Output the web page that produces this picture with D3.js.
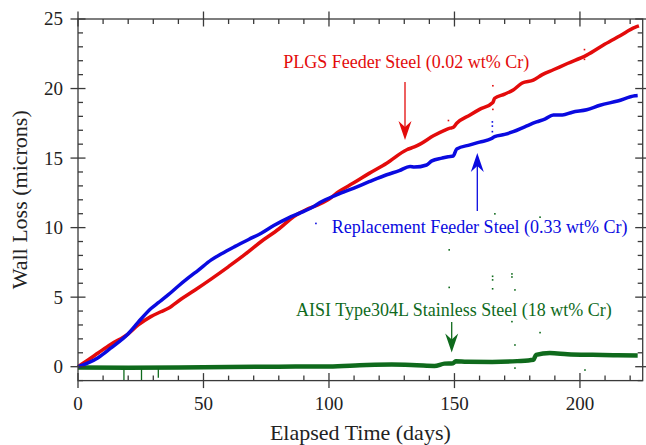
<!DOCTYPE html>
<html><head><meta charset="utf-8">
<script src="https://cdn.jsdelivr.net/npm/d3@7/dist/d3.min.js"></script>
<style>
html,body{margin:0;padding:0;background:#fff;}
svg{display:block;font-family:"Liberation Serif","Times New Roman",serif;}
</style></head>
<body>
<svg id="chart" width="646" height="445"></svg>
<script>
// ---- data ----
const plgsDays = [0,4,8,13,19.9,24,29,33,36,41,46.5,53,60,66,73,80,86,91,95.6,99.6,104,109.7,116,123,131,134,136.3,141.6,146,148.2,149.5,150.9,156.2,160,165.3,166,170,173.4,177,181.4,185,189.4,195,202.7,210,216,221.9,223.5];
const plgsLoss = [0,0.48,0.98,1.6,2.35,3.0,3.6,3.95,4.2,4.85,5.5,6.3,7.2,8.0,9.0,9.9,10.8,11.3,11.63,12.0,12.6,13.2,13.9,14.63,15.6,15.8,16.0,16.6,17.0,17.15,17.2,17.5,18.1,18.5,19.0,19.3,19.6,19.9,20.4,20.6,21.0,21.35,21.8,22.4,23.2,23.8,24.4,24.5];

const replDays = [0,4,8,13,19.9,24,29.2,32,35.9,40,43.8,48,53.1,57,62.4,68,73,78,83.7,89,94.3,96.4,103,109.7,116,123,128,132.3,134,138.9,141,145,147.5,149.5,150.9,156.2,160,164.8,166,170,173.4,178,182.7,186,189.4,193,197,202.7,208,215,221.9,223];
const replLoss = [0,0.27,0.65,1.33,2.35,3.2,4.2,4.6,5.16,5.8,6.36,6.95,7.68,8.1,8.63,9.15,9.6,10.15,10.68,11.1,11.56,11.8,12.35,12.83,13.3,13.8,14.1,14.4,14.35,14.5,14.8,15.0,15.1,15.15,15.66,15.95,16.15,16.4,16.55,16.7,16.9,17.25,17.6,17.8,18.1,18.1,18.3,18.47,18.8,19.1,19.48,19.5];

const aisiDays = [0,20,40,60,80,100,115,125,135,142,146,149.5,150.5,155,165,175,181.5,182.5,188,195,205,215,223];
const aisiLoss = [-0.05,-0.08,-0.06,-0.02,0.0,0.02,0.12,0.15,0.1,0.05,0.22,0.25,0.4,0.35,0.34,0.4,0.5,0.85,0.98,0.9,0.85,0.82,0.8];

// downward glitches of the AISI record
const aisiSpikeDays = [18.3,25.3,32];
const aisiSpikeMin  = [-1,-1,-0.8];

// stray readings
const aisiStrayDays = [166.1,184.1,147.9,147.9,147.9,165.2,165.2,172.9,172.9,165.2,174.1,172.9,184.1,174.1,174.1,202];
const aisiStrayLoss = [10.99,10.75,9.6,8.4,5.7,6.5,6.24,6.67,6.45,5.6,5.52,3.24,2.45,1.56,-0.1,-0.24];
const replStrayDays = [94.8,165.1,165.1,165.1];
const replStrayLoss = [10.3,16.9,17.3,17.6];
const plgsStrayDays = [165.3,165.3,147.6,201.8,201.8];
const plgsStrayLoss = [20.2,18.5,17.7,22.8,22.1];

const xMajor = [0,50,100,150,200];
const xMinor = [10,20,30,40,60,70,80,90,110,120,130,140,160,170,180,190,210,220];
const yMajor = [0,5,10,15,20,25];
const yMinor = [-1,1,2,3,4,6,7,8,9,11,12,13,14,16,17,18,19,21,22,23,24];

const labels = {
  plgs: "PLGS Feeder Steel (0.02 wt% Cr)",
  repl: "Replacement Feeder Steel (0.33 wt% Cr)",
  aisi: "AISI Type304L Stainless Steel (18 wt% Cr)",
  x: "Elapsed Time (days)",
  y: "Wall Loss (microns)"
};

// ---- drawing ----
const W = 646, H = 445;
const m = {l:78, r:3.3, t:19, b:64.4};
const svg = d3.select("#chart");
const x = d3.scaleLinear().domain([0,225]).range([m.l, W - m.r]);
const y = d3.scaleLinear().domain([-1,25]).range([H - m.b, m.t]);

const RED = "#e30b0b", BLUE = "#0a0ae0", GREEN = "#0f6a1c";
const AX = "#3a3a3a";

// series
const line = d3.line().x(d => x(d[0])).y(d => y(d[1])).curve(d3.curveMonotoneX);
function zip(a,b){ return a.map((v,i)=>[v,b[i]]); }

svg.append("path").datum(zip(aisiDays,aisiLoss)).attr("d", line)
  .attr("fill","none").attr("stroke",GREEN).attr("stroke-width",4.5).attr("stroke-linejoin","round");
svg.selectAll(".spike").data(zip(aisiSpikeDays,aisiSpikeMin)).enter().append("line")
  .attr("x1",d=>x(d[0])).attr("x2",d=>x(d[0])).attr("y1",y(-0.1)).attr("y2",d=>y(d[1]))
  .attr("stroke",GREEN).attr("stroke-width",1.3);

svg.append("path").datum(zip(plgsDays,plgsLoss)).attr("d", line)
  .attr("fill","none").attr("stroke",RED).attr("stroke-width",3.5).attr("stroke-linejoin","round");
svg.append("path").datum(zip(replDays,replLoss)).attr("d", line)
  .attr("fill","none").attr("stroke",BLUE).attr("stroke-width",3.5).attr("stroke-linejoin","round");

function dots(days, vals, col){
  svg.append("g").selectAll("rect").data(zip(days,vals)).enter().append("rect")
    .attr("x",d=>x(d[0])-0.8).attr("y",d=>y(d[1])-0.8).attr("width",1.6).attr("height",1.6).attr("fill",col);
}
dots(aisiStrayDays, aisiStrayLoss, GREEN);
dots(replStrayDays, replStrayLoss, BLUE);
dots(plgsStrayDays, plgsStrayLoss, RED);

// axes frame
const x0 = x.range()[0], x1 = x.range()[1], y0 = y.range()[0], y1 = y.range()[1];
const frame = svg.append("g").attr("stroke",AX).attr("stroke-width",1.3).attr("fill","none");
frame.append("rect").attr("x",x0).attr("y",y1).attr("width",x1-x0).attr("height",y0-y1);

function ticksH(vals, yy, out, inn, dir){
  frame.selectAll(null).data(vals).enter().append("line")
    .attr("x1",d=>x(d)).attr("x2",d=>x(d))
    .attr("y1",yy - dir*out).attr("y2",yy + dir*inn);
}
function ticksV(vals, xx, out, inn, dir){
  frame.selectAll(null).data(vals).enter().append("line")
    .attr("y1",d=>y(d)).attr("y2",d=>y(d))
    .attr("x1",xx - dir*out).attr("x2",xx + dir*inn);
}
ticksH(xMajor, y0, -7.5, -7.5, -1);
ticksH(xMinor, y0, 0, 5, -1);
ticksH(xMajor, y1, 7.5, 7.5, 1);
ticksH(xMinor, y1, 0, 5, 1);
ticksV(yMajor, x0, 7.5, 7.5, 1);
ticksV(yMinor, x0, 0, 5, 1);
ticksV(yMajor, x1, 7.5, 7.5, -1);
ticksV(yMinor, x1, 0, 5, -1);

// tick labels
svg.append("g").selectAll("text").data(xMajor).enter().append("text")
  .attr("x",d=>x(d)).attr("y",y0+29.5).attr("text-anchor","middle")
  .attr("font-size",19).attr("fill","#222").text(d=>d);
svg.append("g").selectAll("text").data(yMajor).enter().append("text")
  .attr("x",x0-15).attr("y",d=>y(d)).attr("dy","0.34em").attr("text-anchor","end")
  .attr("font-size",19).attr("fill","#222").text(d=>d);

// axis titles
svg.append("text").attr("x",(x0+x1)/2).attr("y",440).attr("text-anchor","middle")
  .attr("font-size",22).attr("fill","#222").text(labels.x);
svg.append("text").attr("transform",`translate(27,${(y0+y1)/2}) rotate(-90)`)
  .attr("text-anchor","middle").attr("font-size",22).attr("fill","#222").text(labels.y);

// annotations
svg.append("text").attr("x",283.3).attr("y",68.3).attr("font-size",18).attr("fill",RED).text(labels.plgs);
svg.append("text").attr("x",331.7).attr("y",232.7).attr("font-size",18).attr("fill",BLUE).text(labels.repl);
svg.append("text").attr("x",296).attr("y",316).attr("font-size",18).attr("fill",GREEN).text(labels.aisi);

function arrow(px, tail, tip, col){
  const dir = tip > tail ? 1 : -1;
  svg.append("line").attr("x1",px).attr("x2",px).attr("y1",tail).attr("y2",tip - dir*8)
    .attr("stroke",col).attr("stroke-width",1.3);
  const L = 19, hw = 6.5, notch = 13;
  svg.append("path")
    .attr("d",`M${px},${tip} L${px-hw},${tip-dir*L} L${px},${tip-dir*notch} L${px+hw},${tip-dir*L} Z`)
    .attr("fill",col);
}
arrow(405, 82, 140, RED);
arrow(477.3, 211, 153, BLUE);
arrow(451.7, 322, 352.5, GREEN);
</script>
</body></html>
